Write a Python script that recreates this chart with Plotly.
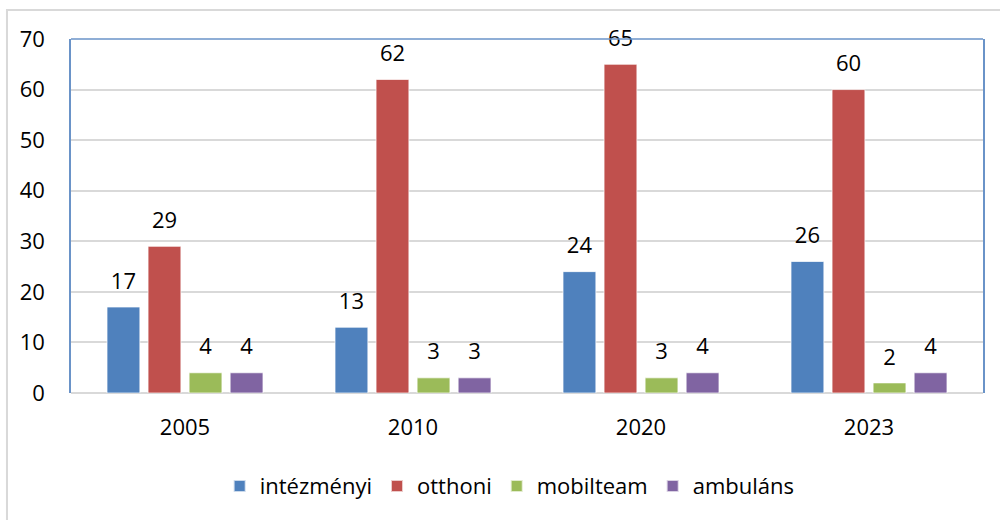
import plotly.graph_objects as go

years = ["2005", "2010", "2020", "2023"]
series_names = ["intézményi", "otthoni", "mobilteam", "ambuláns"]
intezmenyi = [17, 13, 24, 26]
otthoni = [29, 62, 65, 60]
mobilteam = [4, 3, 3, 2]
ambulans = [4, 3, 4, 4]
y_ticks = [0, 10, 20, 30, 40, 50, 60, 70]

colors = ["#4F81BD", "#C0504D", "#9BBB59", "#8064A2"]
values = [intezmenyi, otthoni, mobilteam, ambulans]
FONT = "Open Sans"
FS = 22

fig = go.Figure()
for name, vals, col in zip(series_names, values, colors):
    fig.add_trace(go.Bar(
        x=years, y=vals, name=name,
        marker=dict(color=col, line=dict(color="rgba(255,255,255,0.7)", width=1)),
        hoverinfo="skip",
    ))
for name, vals in zip(series_names, values):
    fig.add_trace(go.Scatter(
        x=years, y=vals, mode="markers+text", text=[str(v) for v in vals],
        textposition="top center", showlegend=False, hoverinfo="skip",
        marker=dict(size=19, color="rgba(0,0,0,0)"),
        textfont=dict(family=FONT, size=FS, color="#000000"),
        cliponaxis=False,
    ))

fig.update_layout(
    width=1000, height=520,
    paper_bgcolor="white", plot_bgcolor="white",
    margin=dict(l=71, r=17, t=39, b=127),
    barmode="group", bargap=0.28, bargroupgap=0.2,
    scattermode="group", scattergap=0.28,
    font=dict(family=FONT, size=FS, color="#000000"),
    showlegend=True,
    legend=dict(orientation="h", x=0.481, xanchor="center", y=-0.263, yanchor="middle",
                font=dict(family=FONT, size=FS), traceorder="normal",
                itemwidth=30, itemsizing="constant"),
    xaxis=dict(showgrid=False, showline=False, ticks="", ticklabelstandoff=19,
               tickfont=dict(family=FONT, size=FS)),
    yaxis=dict(range=[0, 70], tickvals=y_ticks, showgrid=True, gridcolor="#D9D9D9",
               gridwidth=1.5, showline=True, linecolor="#6A93C8", linewidth=1.5,
               mirror=True, ticks="", ticklabelstandoff=20, zeroline=False,
               tickfont=dict(family=FONT, size=FS)),
    shapes=[
        dict(type="line", xref="paper", yref="paper", x0=0, x1=1, y0=1, y1=1,
             line=dict(color="#6A93C8", width=1.5)),
        dict(type="line", xref="paper", yref="paper", x0=0, x1=1, y0=0, y1=0,
             line=dict(color="#D9D9D9", width=2), layer="below"),
        dict(type="rect", xref="paper", yref="paper", x0=-0.0702, x1=1.2, y0=-0.6, y1=1.0819,
             line=dict(color="#D9D9D9", width=2)),
    ],
)

fig.write_html("out.html", config={"displayModeBar": False},
               post_script="document.body.style.margin='0';document.body.style.overflow='hidden';")
